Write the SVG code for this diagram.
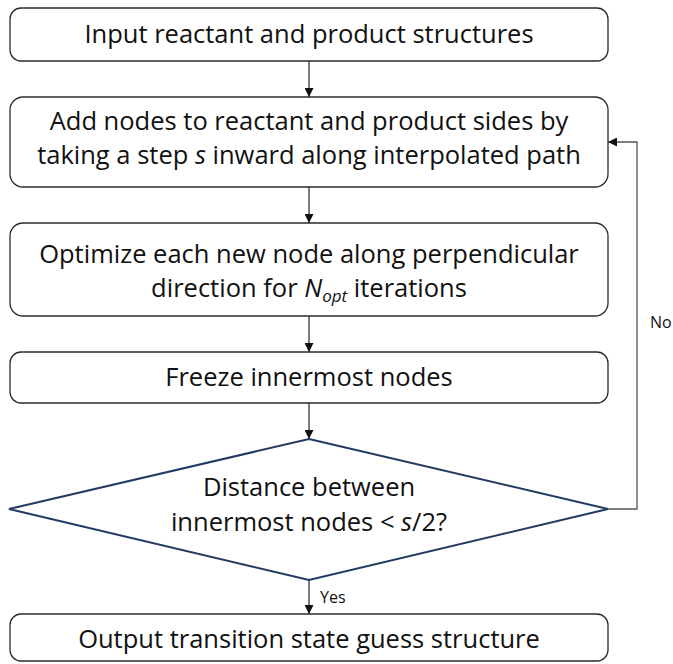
<svg xmlns="http://www.w3.org/2000/svg" width="673" height="664" viewBox="0 0 673 664">
  <defs>
    <marker id="arrow" viewBox="0 0 10 10" refX="10" refY="5" markerWidth="9" markerHeight="9" markerUnits="userSpaceOnUse" orient="auto">
      <path d="M0,0 L10,5 L0,10 Z" fill="#111"/>
    </marker>
    <style>
      .box { fill: #ffffff; stroke: #2b2b2b; stroke-width: 1.3; }
      .decision { fill: #ffffff; stroke: #233a63; stroke-width: 2; }
      .label { font-family: "Open Sans", "Liberation Sans", sans-serif; font-size: 25.5px; fill: #111; text-anchor: middle; }
      .small { font-family: "Open Sans", "Liberation Sans", sans-serif; font-size: 16px; fill: #111; }
      .edge { fill: none; stroke: #555; stroke-width: 1.3; }
      .edge-dark { fill: none; stroke: #222; stroke-width: 1.2; }
    </style>
  </defs>
  <rect width="673" height="664" fill="#ffffff"/>

  <g id="connectors">
    <line class="edge-dark" x1="309" y1="61" x2="309" y2="97" marker-end="url(#arrow)"/>
    <line class="edge-dark" x1="309" y1="187" x2="309" y2="223" marker-end="url(#arrow)"/>
    <line class="edge-dark" x1="309" y1="316" x2="309" y2="352" marker-end="url(#arrow)"/>
    <line class="edge-dark" x1="309" y1="403" x2="309" y2="439" marker-end="url(#arrow)"/>
    <line class="edge-dark" x1="309" y1="580" x2="309" y2="614" marker-end="url(#arrow)"/>
    <polyline class="edge" points="608,509 637,509 637,142 608,142" marker-end="url(#arrow)"/>
    <text class="small" x="320" y="603">Yes</text>
    <text class="small" x="650" y="328">No</text>
  </g>

  <g id="input">
    <rect class="box" x="10" y="8" width="598" height="53" rx="11"/>
    <text class="label" x="309" y="43">Input reactant and product structures</text>
  </g>

  <g id="add-nodes">
    <rect class="box" x="10" y="97" width="598" height="90" rx="13"/>
    <text class="label" x="309" y="130">Add nodes to reactant and product sides by</text>
    <text class="label" x="309" y="164">taking a step <tspan font-style="italic">s</tspan> inward along interpolated path</text>
  </g>

  <g id="optimize">
    <rect class="box" x="10" y="223" width="598" height="93" rx="13"/>
    <text class="label" x="309" y="263">Optimize each new node along perpendicular</text>
    <text class="label" x="309" y="297">direction for <tspan font-style="italic">N</tspan><tspan font-style="italic" font-size="17px" dy="5">opt</tspan><tspan dy="-5"> iterations</tspan></text>
  </g>

  <g id="freeze">
    <rect class="box" x="10" y="352" width="598" height="51" rx="11"/>
    <text class="label" x="309" y="386">Freeze innermost nodes</text>
  </g>

  <g id="check-distance">
    <polygon class="decision" points="309,439 608,509 309,580 9,509"/>
    <text class="label" x="309" y="496">Distance between</text>
    <text class="label" x="309" y="531">innermost nodes &lt; <tspan font-style="italic">s</tspan>/2?</text>
  </g>

  <g id="output">
    <rect class="box" x="10" y="614" width="598" height="47" rx="11"/>
    <text class="label" x="309" y="648">Output transition state guess structure</text>
  </g>
</svg>
